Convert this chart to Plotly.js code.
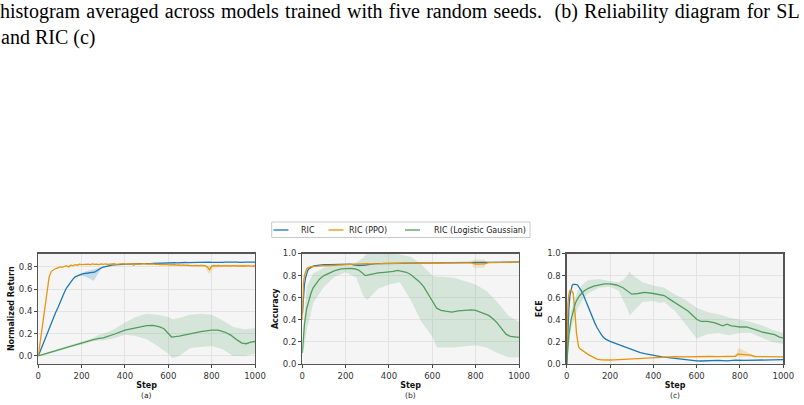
<!DOCTYPE html>
<html>
<head>
<meta charset="utf-8">
<script src="https://cdn.plot.ly/plotly-3.0.1.min.js"></script>
<style>
  html, body { margin: 0; padding: 0; background: #fff; }
  #wrap { position: relative; width: 804px; height: 405px; overflow: hidden; }
  #chart { position: absolute; left: 0; top: 0; width: 804px; height: 405px; }
  .cap { position: absolute; left: 0; font-family: 'Liberation Serif', 'Times New Roman', serif;
         font-size: 20px; line-height: 24px; color: #000; z-index: 2; white-space: nowrap; }
  #cap1 { top: -1px; word-spacing: 1.3px; }
  #cap2 { top: 25px; left: 1px; }
</style>
</head>
<body>
<div id="wrap">
  <div id="chart"></div>
  <div class="cap" id="cap1">histogram averaged across models trained with five random seeds.&nbsp; (b) Reliability diagram for SL</div>
  <div class="cap" id="cap2">and RIC (c)</div>
</div>
<script>
// ---------- shared ----------
const seriesNames = ['RIC', 'RIC (PPO)', 'RIC (Logistic Gaussian)'];
const stepGrid = Array.from({length: 101}, (_, i) => i * 10);   // 0, 10, ..., 1000
const xTicks = [0, 200, 400, 600, 800, 1000];
const panelLabels = ['(a)', '(b)', '(c)'];
const yTitles = ['Normalized Return', 'Accuracy', 'ECE'];

// ---------- (a) Normalized Return ----------
const returnRic = [
  0.000,0.050,0.100,0.150,0.200,0.240,0.290,0.340,0.390,0.430,
  0.480,0.520,0.570,0.610,0.640,0.670,0.690,0.710,0.720,0.730,
  0.735,0.740,0.745,0.745,0.748,0.750,0.752,0.765,0.780,0.790,
  0.797,0.803,0.808,0.812,0.815,0.817,0.819,0.820,0.821,0.822,
  0.823,0.824,0.824,0.826,0.825,0.827,0.827,0.828,0.829,0.828,
  0.830,0.831,0.830,0.832,0.833,0.832,0.834,0.833,0.835,0.834,
  0.836,0.835,0.836,0.837,0.836,0.838,0.837,0.838,0.839,0.838,
  0.839,0.840,0.839,0.840,0.841,0.840,0.841,0.840,0.841,0.842,
  0.841,0.840,0.842,0.841,0.842,0.841,0.842,0.843,0.842,0.841,
  0.842,0.843,0.842,0.841,0.843,0.842,0.843,0.842,0.841,0.842,
  0.843];
const returnPpo = [
  0.000,0.140,0.290,0.440,0.590,0.710,0.760,0.775,0.785,0.790,
  0.800,0.795,0.805,0.810,0.800,0.815,0.810,0.820,0.815,0.825,
  0.820,0.822,0.818,0.824,0.820,0.826,0.822,0.825,0.820,0.826,
  0.823,0.827,0.822,0.826,0.824,0.828,0.823,0.826,0.825,0.829,
  0.824,0.827,0.826,0.829,0.815,0.828,0.825,0.828,0.826,0.829,
  0.825,0.827,0.824,0.826,0.822,0.825,0.821,0.823,0.819,0.822,
  0.818,0.820,0.816,0.819,0.815,0.818,0.814,0.817,0.813,0.816,
  0.812,0.815,0.812,0.814,0.810,0.813,0.810,0.812,0.800,0.775,
  0.805,0.812,0.809,0.812,0.808,0.811,0.809,0.812,0.808,0.811,
  0.809,0.811,0.808,0.810,0.807,0.810,0.808,0.811,0.807,0.810,
  0.808];
const returnLgSteps = [0,50,100,150,200,250,280,300,350,400,450,500,530,560,580,600,615,650,700,750,800,830,860,890,920,940,960,980,1000];
const returnLg      = [0,0.03,0.06,0.09,0.115,0.145,0.158,0.162,0.195,0.232,0.252,0.272,0.275,0.262,0.245,0.200,0.170,0.178,0.200,0.218,0.232,0.232,0.215,0.185,0.140,0.115,0.110,0.125,0.130];
const returnLgBandSteps = [0,50,100,150,200,250,280,300,350,400,450,500,550,600,620,650,700,750,800,850,900,950,1000];
const returnLgLo = [0,0.02,0.05,0.08,0.10,0.13,0.14,0.14,0.16,0.19,0.18,0.15,0.09,0.02,-0.02,0.00,0.07,0.08,0.09,0.06,0.00,0.00,0.02];
const returnLgHi = [0,0.04,0.07,0.10,0.13,0.16,0.19,0.20,0.24,0.30,0.35,0.38,0.37,0.35,0.33,0.34,0.37,0.38,0.37,0.32,0.26,0.24,0.25];
const returnRicBandSteps = [180,200,220,240,255,270,290,310];
const returnRicLo = [0.72,0.72,0.71,0.69,0.675,0.72,0.78,0.80];
const returnRicHi = [0.725,0.745,0.76,0.77,0.775,0.785,0.80,0.805];
const returnPpoBandSteps = [600,650,700,750,770,785,795,805,850,900,950,1000];
const returnPpoLo = [0.810,0.808,0.805,0.803,0.798,0.740,0.740,0.790,0.800,0.800,0.800,0.800];
const returnPpoHi = [0.826,0.824,0.822,0.820,0.818,0.812,0.812,0.820,0.820,0.820,0.818,0.818];

// ---------- (b) Accuracy ----------
const accSteps = [0,5,10,15,20,25,30,40,50,60,70,80,90,100,120,140,160,180,200,220,240,260,280,300,320,340,360,380,400,
  420,440,460,480,500,520,540,560,580,600,620,640,660,680,700,720,740,760,780,800,820,840,860,880,900,920,940,960,980,1000];
const accRic = [0.45,0.62,0.72,0.78,0.82,0.845,0.86,0.875,0.885,0.89,0.893,0.895,0.897,0.898,0.900,0.902,0.903,0.904,0.905,0.904,0.898,0.892,0.893,0.900,0.905,0.908,0.909,0.910,0.910,
  0.911,0.911,0.912,0.912,0.913,0.913,0.913,0.914,0.914,0.915,0.915,0.916,0.916,0.916,0.917,0.917,0.917,0.918,0.918,0.920,0.920,0.919,0.920,0.920,0.921,0.921,0.922,0.922,0.923,0.924];
const accPpo = [0.40,0.72,0.80,0.84,0.86,0.87,0.875,0.880,0.882,0.884,0.886,0.885,0.888,0.890,0.889,0.893,0.895,0.898,0.900,0.902,0.905,0.903,0.906,0.908,0.906,0.910,0.908,0.911,0.909,
  0.912,0.910,0.913,0.911,0.914,0.912,0.914,0.913,0.915,0.914,0.916,0.914,0.916,0.915,0.917,0.915,0.917,0.916,0.915,0.905,0.903,0.906,0.918,0.917,0.920,0.919,0.921,0.920,0.922,0.924];
const accLgSteps = [0,5,10,20,30,40,50,60,80,100,120,150,180,200,220,240,260,280,290,300,320,350,380,400,420,440,460,480,500,520,540,560,580,600,620,640,660,690,720,750,780,800,820,840,860,880,900,920,940,960,980,1000];
const accLg = [0.10,0.25,0.36,0.50,0.58,0.64,0.69,0.72,0.77,0.80,0.82,0.845,0.86,0.865,0.866,0.862,0.850,0.820,0.800,0.805,0.815,0.825,0.830,0.832,0.838,0.848,0.840,0.830,0.810,0.780,0.745,0.700,0.640,0.570,0.505,0.485,0.478,0.470,0.480,0.485,0.490,0.485,0.470,0.455,0.440,0.410,0.370,0.320,0.270,0.250,0.245,0.240];
const accLgBandSteps = [0,20,50,100,150,200,250,280,300,350,400,450,500,550,600,620,650,700,750,800,850,900,950,1000];
const accLgLo = [0.05,0.30,0.55,0.70,0.79,0.83,0.78,0.62,0.58,0.68,0.72,0.74,0.58,0.38,0.25,0.15,0.15,0.15,0.16,0.17,0.15,0.10,0.06,0.06];
const accLgHi = [0.15,0.70,0.82,0.87,0.89,0.90,0.92,0.96,1.00,1.00,1.00,0.99,0.97,0.90,0.80,0.79,0.79,0.78,0.75,0.72,0.66,0.56,0.44,0.38];
const accPpoBandSteps = [770,785,790,840,845,860];
const accPpoLo = [0.912,0.900,0.870,0.870,0.900,0.915];
const accPpoHi = [0.918,0.930,0.945,0.945,0.930,0.921];
const accRicBandSteps = [220,240,260,280,300,320];
const accRicLo = [0.900,0.888,0.880,0.882,0.892,0.900];
const accRicHi = [0.906,0.906,0.904,0.905,0.907,0.908];

// ---------- (c) ECE ----------
const eceRicSteps = [0,5,10,15,20,25,30,35,40,50,60,70,80,90,100,110,120,130,140,150,160,170,180,200,220,240,260,280,300,320,340,360,380,400,420,440,460,480,500,540,580,600,620,660,700,740,780,820,860,900,950,1000];
const eceRic = [0,0.30,0.50,0.62,0.68,0.71,0.72,0.722,0.72,0.715,0.69,0.655,0.61,0.56,0.51,0.46,0.41,0.37,0.33,0.295,0.265,0.24,0.225,0.205,0.19,0.175,0.16,0.145,0.128,0.115,0.103,0.093,0.085,0.078,0.072,0.065,0.060,0.055,0.050,0.042,0.032,0.028,0.027,0.030,0.032,0.028,0.035,0.032,0.035,0.036,0.038,0.040];
const ecePpoSteps = [0,3,6,10,15,20,25,30,35,40,45,50,55,60,70,80,90,100,120,140,160,180,200,220,240,260,280,300,340,380,420,460,500,540,580,620,660,700,740,780,790,820,850,870,900,950,1000];
const ecePpo = [0,0.35,0.55,0.63,0.665,0.67,0.66,0.64,0.55,0.42,0.28,0.19,0.155,0.14,0.125,0.11,0.095,0.085,0.065,0.045,0.037,0.035,0.036,0.038,0.040,0.045,0.048,0.050,0.053,0.058,0.062,0.064,0.066,0.064,0.067,0.065,0.068,0.066,0.068,0.070,0.090,0.088,0.080,0.068,0.066,0.065,0.065];
const eceLgSteps = [0,5,10,20,30,40,50,60,80,100,125,150,175,200,230,260,280,290,300,330,360,400,430,450,480,500,530,560,600,620,650,680,700,720,740,760,780,800,830,860,880,900,920,940,960,980,1000];
const eceLg = [0,0.15,0.26,0.40,0.49,0.55,0.59,0.62,0.66,0.685,0.705,0.718,0.725,0.725,0.715,0.69,0.66,0.64,0.632,0.638,0.648,0.638,0.625,0.620,0.580,0.555,0.520,0.480,0.405,0.385,0.385,0.375,0.360,0.345,0.360,0.345,0.340,0.335,0.335,0.320,0.305,0.290,0.280,0.270,0.265,0.245,0.235];
const eceLgBandSteps = [0,20,50,80,100,150,200,240,260,280,290,300,350,400,430,450,500,550,600,650,700,750,800,850,900,950,1000];
const eceLgLo = [0,0.32,0.50,0.60,0.64,0.69,0.70,0.66,0.58,0.50,0.44,0.46,0.56,0.57,0.55,0.56,0.48,0.36,0.23,0.27,0.28,0.26,0.28,0.28,0.24,0.20,0.18];
const eceLgHi = [0,0.48,0.66,0.73,0.76,0.77,0.75,0.74,0.76,0.80,0.84,0.81,0.74,0.71,0.70,0.69,0.63,0.58,0.51,0.47,0.45,0.42,0.40,0.38,0.35,0.31,0.28];
const ecePpoBandSteps = [770,785,790,800,820,840,860,880];
const ecePpoLo = [0.065,0.070,0.065,0.060,0.065,0.065,0.062,0.063];
const ecePpoHi = [0.072,0.100,0.135,0.140,0.120,0.100,0.078,0.070];

// ---------- styling ----------
const lineColors = ['#1f77b4', '#e8940c', '#4f9e5c'];
const bandColors = ['rgba(31,119,180,0.22)', 'rgba(232,148,12,0.22)', 'rgba(79,158,92,0.18)'];
const FONT = 'DejaVu Sans, Verdana, sans-serif';

function band(xs, lo, hi, k, ax) {
  return {
    type: 'scatter', mode: 'lines', xaxis: 'x' + ax, yaxis: 'y' + ax,
    x: xs.concat(xs.slice().reverse()),
    y: hi.concat(lo.slice().reverse()),
    fill: 'toself', fillcolor: bandColors[k], line: {width: 0}, hoverinfo: 'skip', showlegend: false
  };
}
function line(xs, ys, k, ax) {
  return {
    type: 'scatter', mode: 'lines', xaxis: 'x' + ax, yaxis: 'y' + ax, x: xs, y: ys,
    name: seriesNames[k], line: {color: lineColors[k], width: 1.3}, showlegend: false
  };
}

const traces = [
  band(returnRicBandSteps, returnRicLo, returnRicHi, 0, ''),
  band(returnPpoBandSteps, returnPpoLo, returnPpoHi, 1, ''),
  band(returnLgBandSteps, returnLgLo, returnLgHi, 2, ''),
  line(stepGrid, returnRic, 0, ''),
  line(stepGrid, returnPpo, 1, ''),
  line(returnLgSteps, returnLg, 2, ''),

  band(accRicBandSteps, accRicLo, accRicHi, 0, '2'),
  band(accPpoBandSteps, accPpoLo, accPpoHi, 1, '2'),
  band(accLgBandSteps, accLgLo, accLgHi, 2, '2'),
  line(accSteps, accRic, 0, '2'),
  line(accSteps, accPpo, 1, '2'),
  line(accLgSteps, accLg, 2, '2'),

  band(ecePpoBandSteps, ecePpoLo, ecePpoHi, 1, '3'),
  band(eceLgBandSteps, eceLgLo, eceLgHi, 2, '3'),
  line(eceRicSteps, eceRic, 0, '3'),
  line(ecePpoSteps, ecePpo, 1, '3'),
  line(eceLgSteps, eceLg, 2, '3')
];

const W = 804, H = 405;
const xDomains = [[38.3 / W, 255 / W], [302.3 / W, 519 / W], [566.7 / W, 783.3 / W]];
const yDomain = [1 - 364 / H, 1 - 253.5 / H];
const yRanges = [[-0.072, 0.92], [0, 1], [0, 1]];
const yTickSets = [[0, 0.2, 0.4, 0.6, 0.8], [0, 0.2, 0.4, 0.6, 0.8, 1.0], [0, 0.2, 0.4, 0.6, 0.8, 1.0]];

function xAxis(i) {
  return {
    domain: xDomains[i], range: [0, 1000], anchor: i === 0 ? 'y' : 'y' + (i + 1),
    tickvals: xTicks, ticks: 'outside', ticklen: 3, tickwidth: 1, tickcolor: '#444',
    showline: true, mirror: true, linecolor: '#555', linewidth: 1.3,
    showgrid: true, gridcolor: '#e3e3e3', gridwidth: 1, zeroline: false,
    tickfont: {family: FONT, size: 8.5, color: '#333'},
    title: {text: 'Step', font: {family: FONT, size: 8, color: '#111', weight: 'bold'}, standoff: 3}
  };
}
function yAxis(i) {
  return {
    domain: yDomain, range: yRanges[i], anchor: i === 0 ? 'x' : 'x' + (i + 1),
    tickvals: yTickSets[i], tickformat: '.1f', ticks: 'outside', ticklen: 3, tickwidth: 1, tickcolor: '#444',
    showline: true, mirror: true, linecolor: '#555', linewidth: 1.3,
    showgrid: true, gridcolor: '#e3e3e3', gridwidth: 1, zeroline: false,
    tickfont: {family: FONT, size: 8.5, color: '#333'},
    title: {text: yTitles[i], font: {family: FONT, size: 8, color: '#111', weight: 'bold'}, standoff: 3}
  };
}

// legend drawn as a framed row above the middle panel
const legendBox = {x0: 271.7, x1: 530, y0: 222, y1: 237.5};
const legendItems = [
  {lx: 273.5, tx: 299},
  {lx: 328.5, tx: 347},
  {lx: 405, tx: 431.5}
];
const shapes = [{
  type: 'rect', xref: 'paper', yref: 'paper',
  x0: legendBox.x0 / W, x1: legendBox.x1 / W, y0: 1 - legendBox.y1 / H, y1: 1 - legendBox.y0 / H,
  line: {color: '#c8c8c8', width: 1}, fillcolor: '#ffffff'
}];
const annotations = [];
legendItems.forEach((it, k) => {
  const yc = 1 - 230 / H;
  shapes.push({type: 'line', xref: 'paper', yref: 'paper', x0: it.lx / W, x1: (it.lx + 15) / W, y0: yc, y1: yc,
    line: {color: lineColors[k], width: 1.3}});
  annotations.push({xref: 'paper', yref: 'paper', x: it.tx / W, y: yc, xanchor: 'left', yanchor: 'middle',
    text: seriesNames[k], showarrow: false, font: {family: FONT, size: 8, color: '#222'}});
});
panelLabels.forEach((t, i) => {
  annotations.push({xref: 'paper', yref: 'paper', x: (xDomains[i][0] + xDomains[i][1]) / 2, y: 1 - 395 / H,
    xanchor: 'center', yanchor: 'middle', text: t, showarrow: false, font: {family: FONT, size: 7.5, color: '#222'}});
});

const layout = {
  width: W, height: H, margin: {l: 0, r: 0, t: 0, b: 0},
  paper_bgcolor: '#ffffff', plot_bgcolor: '#f5f5f5', showlegend: false,
  font: {family: FONT, size: 8, color: '#333'},
  xaxis: xAxis(0), yaxis: yAxis(0),
  xaxis2: xAxis(1), yaxis2: yAxis(1),
  xaxis3: xAxis(2), yaxis3: yAxis(2),
  shapes: shapes, annotations: annotations
};

Plotly.newPlot('chart', traces, layout, {staticPlot: true, displayModeBar: false});
</script>
</body>
</html>
